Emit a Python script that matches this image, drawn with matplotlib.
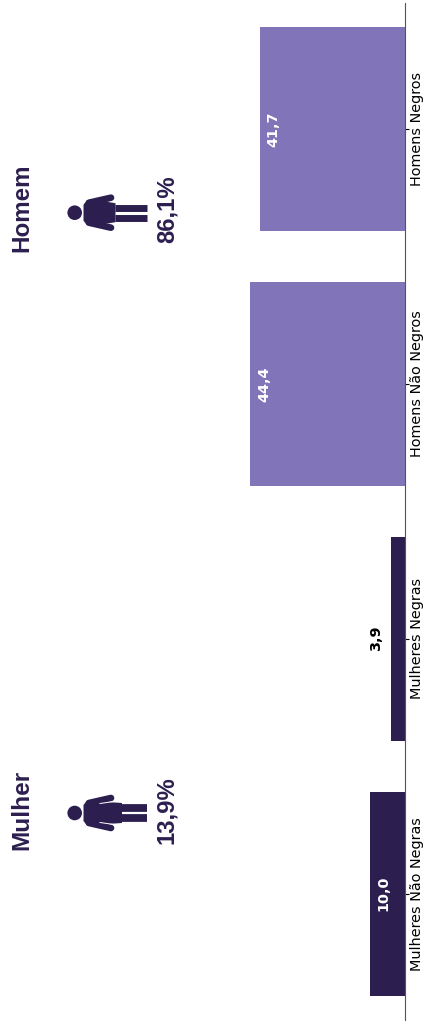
import matplotlib
matplotlib.use("Agg")
import matplotlib.pyplot as plt
from matplotlib.patches import Circle, Polygon

categories = ["Homens Negros", "Homens Não Negros", "Mulheres Negras", "Mulheres Não Negras"]
values = [41.7, 44.4, 3.9, 10.0]
value_labels = ["41,7", "44,4", "3,9", "10,0"]
light = "#8174B9"
dark = "#2C1F4F"
bar_colors = [light, light, dark, dark]
group_names = ["Homem", "Mulher"]
group_shares = ["86,1%", "13,9%"]

W, H = 423, 1027
fig = plt.figure(figsize=(W / 100, H / 100), dpi=100)

# bars run leftwards from the axis on the right, whole chart is turned 90 degrees
ax = fig.add_axes([0, 1 - 1020 / H, 404.5 / W, 1017 / H])
ax.barh(categories, values, height=0.8, color=bar_colors)
ax.set_xlim(404.5 / 3.475, 0)
ax.set_ylim(3.496, -0.494)
ax.xaxis.set_visible(False)
for s in ["left", "top", "bottom"]:
    ax.spines[s].set_visible(False)
ax.spines["right"].set_color("#555555")
ax.yaxis.tick_right()
ax.tick_params(axis="y", length=3, width=0.8, pad=1.2, labelsize=10.35, labelrotation=90)
for t in ax.get_yticklabels():
    t.set_va("center")

for i, (v, lab) in enumerate(zip(values, value_labels)):
    # offsets are in screen points, so inside the bar means to the right
    if v < 5:
        ax.annotate(lab, (v, i), xytext=(-11, 0), textcoords="offset points", rotation=90,
                    ha="center", va="center", fontsize=10.4, fontweight="bold", color="black")
    else:
        ax.annotate(lab, (v, i), xytext=(10, 0), textcoords="offset points", rotation=90,
                    ha="center", va="center", fontsize=10.4, fontweight="bold", color="white")

# overlay in pixel units for the person icons
ov = fig.add_axes([0, 0, 1, 1])
ov.set_xlim(0, W)
ov.set_ylim(H, 0)
ov.axis("off")


def person(cy, skirt=False):
    ov.add_patch(Circle((74.7, cy), 7.3, color=dark, lw=0))
    if skirt:
        body = [(83.5, cy - 8), (87, cy - 12.5), (100, cy - 11.5), (122, cy - 10), (122, cy + 10),
                (100, cy + 11.5), (87, cy + 12.5), (83.5, cy + 8)]
        leg_off, leg_w, leg_start = 5, 5.6, 122
    else:
        body = [(83.5, cy - 8), (87, cy - 12.5), (100, cy - 12), (115.5, cy - 9.5), (115.5, cy + 9.5),
                (100, cy + 12), (87, cy + 12.5), (83.5, cy + 8)]
        leg_off, leg_w, leg_start = 5, 5.0, 115
    ov.add_patch(Polygon(body, closed=True, color=dark, lw=0))
    for sign in (-1, 1):
        ov.plot([leg_start, 147], [cy + sign * leg_off] * 2, color=dark, lw=leg_w, solid_capstyle="butt")
        ov.plot([89, 111], [cy + sign * 10, cy + sign * 15], color=dark, lw=4.8,
                solid_capstyle="round")
        if skirt:
            ov.plot([100, 114], [cy + sign * 9.5, cy + sign * 11.5], color="white", lw=0.7)


person(212.7)
person(813, skirt=True)

title_font = dict(family="Liberation Sans", fontweight="bold", color=dark, rotation=90,
                  ha="center", va="center")
ov.text(21.5, 207.5, group_names[0], fontsize=17.4, **title_font)
ov.text(21.5, 809.5, group_names[1], fontsize=17.6, **title_font)
ov.text(167, 209.5, group_shares[0], fontsize=17.2, **title_font)
ov.text(167, 810, group_shares[1], fontsize=17.2, **title_font)

fig.savefig("out.png", dpi=100)
